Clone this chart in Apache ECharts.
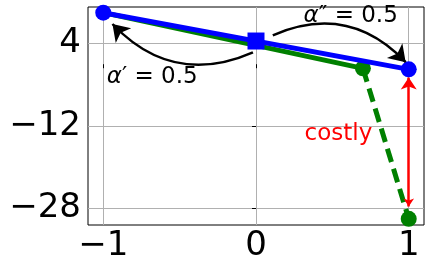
<!DOCTYPE html>
<html><head><meta charset="utf-8">
<script src="https://cdn.jsdelivr.net/npm/echarts@6/dist/echarts.min.js"></script>
<style>html,body{margin:0;padding:0;background:#fff}#c{width:430px;height:273px}</style>
</head><body><div id="c"></div>
<script>
var xTicks = [-1, 0, 1];
var yTicks = [-28, -12, 4];
var bluePath = [[-1, 10], [1, -1]];
var blueMid = [[0, 4.5]];
var greenSolid = [[-1, 10], [0.7, -0.8]];
var greenDashed = [[0.7, -0.8], [1, -30]];
var costArrow = [[1, -27.6], [1, -2.6]];
var arrowLeft = [[-0.02, 2.3], [-0.94, 7.8]];
var arrowRight = [[0.11, 5.6], [0.98, 0.4]];
var labelAlpha1 = [-0.68, -2.4];
var labelAlpha2 = [0.62, 9.3];
var labelCostly = [0.54, -13.6];

function fmt(v){ return String(v).replace('-', '\u2212'); }
var F = 'DejaVu Sans';
var chart = echarts.init(document.getElementById('c'), null, {renderer:'canvas'});
chart.setOption({
  animation:false,
  grid:{left:88, right:6, top:7, bottom:48, show:true, borderColor:'#000', borderWidth:1, backgroundColor:'transparent'},
  xAxis:{type:'value', min:-1.1, max:1.1,
    axisLine:{show:false},
    axisTick:{show:true, length:4, lineStyle:{color:'#000'}, customValues:xTicks},
    axisLabel:{customValues:xTicks, formatter:fmt, fontFamily:F, fontSize:34, color:'#000', margin:4},
    splitLine:{show:true, lineStyle:{color:'#b0b0b0', width:1}}},
  yAxis:{type:'value', min:-31.2, max:11.1,
    axisLine:{show:false},
    axisTick:{show:true, length:4, lineStyle:{color:'#000'}, customValues:yTicks},
    axisLabel:{customValues:yTicks, formatter:fmt, fontFamily:F, fontSize:34, color:'#000', margin:7},
    splitLine:{show:true, lineStyle:{color:'#b0b0b0', width:1}}},
  series:[
    {type:'line', data:greenSolid, symbol:'none', lineStyle:{color:'#008000', width:5}, z:2, clip:false},
    {type:'line', data:greenDashed, symbol:'circle', symbolSize:16, itemStyle:{color:'#008000'}, lineStyle:{color:'#008000', width:5, type:[14,7]}, z:2, clip:false},
    {type:'lines', coordinateSystem:'cartesian2d', data:[{coords:costArrow}], symbol:['arrow','arrow'], symbolSize:[8,12], lineStyle:{color:'#ff0000', width:2.5, opacity:1, curveness:0}, z:3},
    {type:'line', data:bluePath, symbol:'circle', symbolSize:16, itemStyle:{color:'#0000ff'}, lineStyle:{color:'#0000ff', width:5}, z:4, clip:false},
    {type:'scatter', data:blueMid, symbol:'rect', symbolSize:17, itemStyle:{color:'#0000ff', opacity:1}, z:5},
    {type:'lines', coordinateSystem:'cartesian2d', data:[{coords:arrowLeft, lineStyle:{curveness:0.35}},{coords:arrowRight, lineStyle:{curveness:0.35}}], symbol:['none','arrow'], symbolSize:16, lineStyle:{color:'#000', width:2.5, opacity:1}, z:6},
    {type:'scatter', symbolSize:0, z:7, silent:true, itemStyle:{opacity:1},
      data:[{value:labelAlpha1, label:{formatter:'{a|α}{b|′ = 0.5}'}},
            {value:labelAlpha2, label:{formatter:'{a|α}{b|″ = 0.5}'}}],
      label:{show:true, position:'inside', color:'#000', opacity:1, rich:{a:{fontFamily:F, fontStyle:'italic', fontSize:23, color:'#000'}, b:{fontFamily:F, fontSize:23, color:'#000'}}}},
    {type:'scatter', symbolSize:0, z:7, silent:true, itemStyle:{opacity:1},
      data:[{value:labelCostly}],
      label:{show:true, position:'inside', formatter:'costly', fontFamily:F, fontSize:23, color:'#ff0000', opacity:1}}
  ]
});
</script></body></html>
